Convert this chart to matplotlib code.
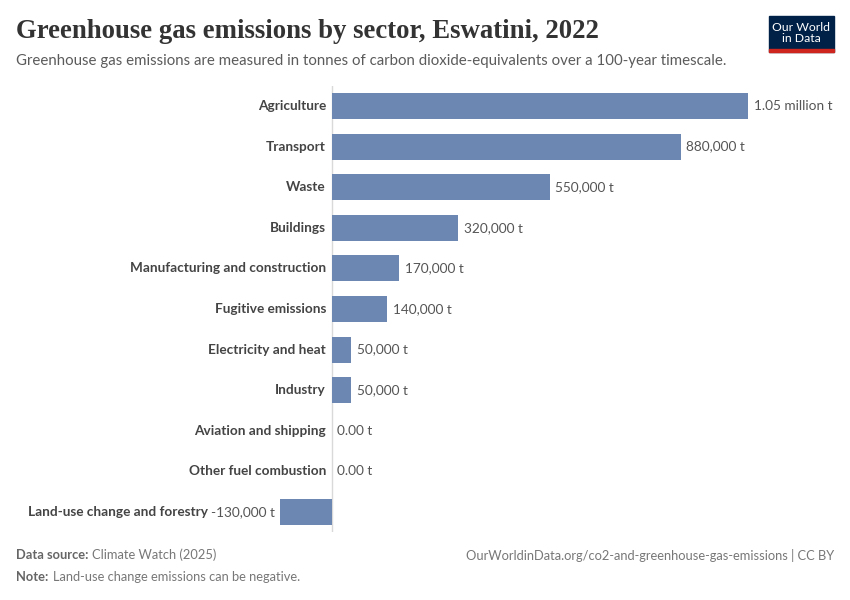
import matplotlib.pyplot as plt
from matplotlib.patches import Rectangle

sectors = ["Agriculture", "Transport", "Waste", "Buildings",
           "Manufacturing and construction", "Fugitive emissions",
           "Electricity and heat", "Industry", "Aviation and shipping",
           "Other fuel combustion", "Land-use change and forestry"]
values = [1050000, 880000, 550000, 320000, 170000, 140000,
          50000, 50000, 0, 0, -130000]
value_labels = ["1.05 million t", "880,000 t", "550,000 t", "320,000 t",
                "170,000 t", "140,000 t", "50,000 t", "50,000 t",
                "0.00 t", "0.00 t", "-130,000 t"]

W, H = 850, 600
fig = plt.figure(figsize=(8.5, 6), dpi=100)
plt.rcParams['font.family'] = ['Lato', 'DejaVu Sans']

bar_color = "#6D87B3"
ax = fig.add_axes([280 / W, 1 - 532.3 / H, 468 / W, (532.3 - 85.7) / H])
ypos = list(range(len(sectors)))
ax.barh(ypos, values, height=0.64, color=bar_color)
ax.set_xlim(min(values), max(values))
ax.set_ylim(len(sectors) - 0.5, -0.5)
ax.axvline(0, color="#d9d9d9", lw=1, zorder=0)
for s in ax.spines.values():
    s.set_visible(False)
ax.set_xticks([])
ax.set_yticks([])

for i, (v, lab, name) in enumerate(zip(values, value_labels, sectors)):
    if v >= 0:
        ax.annotate(lab, (v, i), xytext=(4, 0), textcoords="offset points",
                    ha="left", va="center", fontsize=9.8, color="#555555")
        ax.annotate(name, (0, i), xytext=(-4, 0), textcoords="offset points",
                    ha="right", va="center", fontsize=9.8, color="#444444",
                    fontweight="bold")
    else:
        ax.annotate(lab, (v, i), xytext=(-4, 0), textcoords="offset points",
                    ha="right", va="center", fontsize=9.8, color="#555555")
        ax.annotate(name, (v, i), xytext=(-52, 0), textcoords="offset points",
                    ha="right", va="center", fontsize=9.8, color="#444444",
                    fontweight="bold")

fig.text(16 / W, 1 - 32 / H, "Greenhouse gas emissions by sector, Eswatini, 2022",
         family=["Liberation Serif", "DejaVu Serif"], fontsize=19.3,
         fontweight="bold", color="#333333", va="center", ha="left")
fig.text(16 / W, 1 - 61 / H,
         "Greenhouse gas emissions are measured in tonnes of carbon dioxide-equivalents over a 100-year timescale.",
         fontsize=10.8, color="#5b5b5b", va="center", ha="left")

# logo
fig.patches.append(Rectangle((769 / W, 1 - 52 / H), 65 / W, 36 / H,
                             transform=fig.transFigure, color="#002147"))
fig.patches.append(Rectangle((769 / W, 1 - 52 / H), 65 / W, 3 / H,
                             transform=fig.transFigure, color="#CE261E"))
fig.text(801.5 / W, 1 - 33 / H, "Our World\nin Data", color="white",
         fontsize=8.8, ha="center", va="center", linespacing=1.0)

fig.text(16 / W, 1 - 555 / H, "Data source:", fontsize=9.3, color="#666666",
         fontweight="bold", va="center")
fig.text(92 / W, 1 - 555 / H, "Climate Watch (2025)", fontsize=9.3,
         color="#777777", va="center")
fig.text(16 / W, 1 - 577 / H, "Note:", fontsize=9.3, color="#666666",
         fontweight="bold", va="center")
fig.text(53 / W, 1 - 577 / H, "Land-use change emissions can be negative.",
         fontsize=9.3, color="#777777", va="center")
fig.text(834 / W, 1 - 555 / H,
         "OurWorldinData.org/co2-and-greenhouse-gas-emissions | CC BY",
         fontsize=9.3, color="#777777", va="center", ha="right")

fig.savefig("out.png", dpi=100)
